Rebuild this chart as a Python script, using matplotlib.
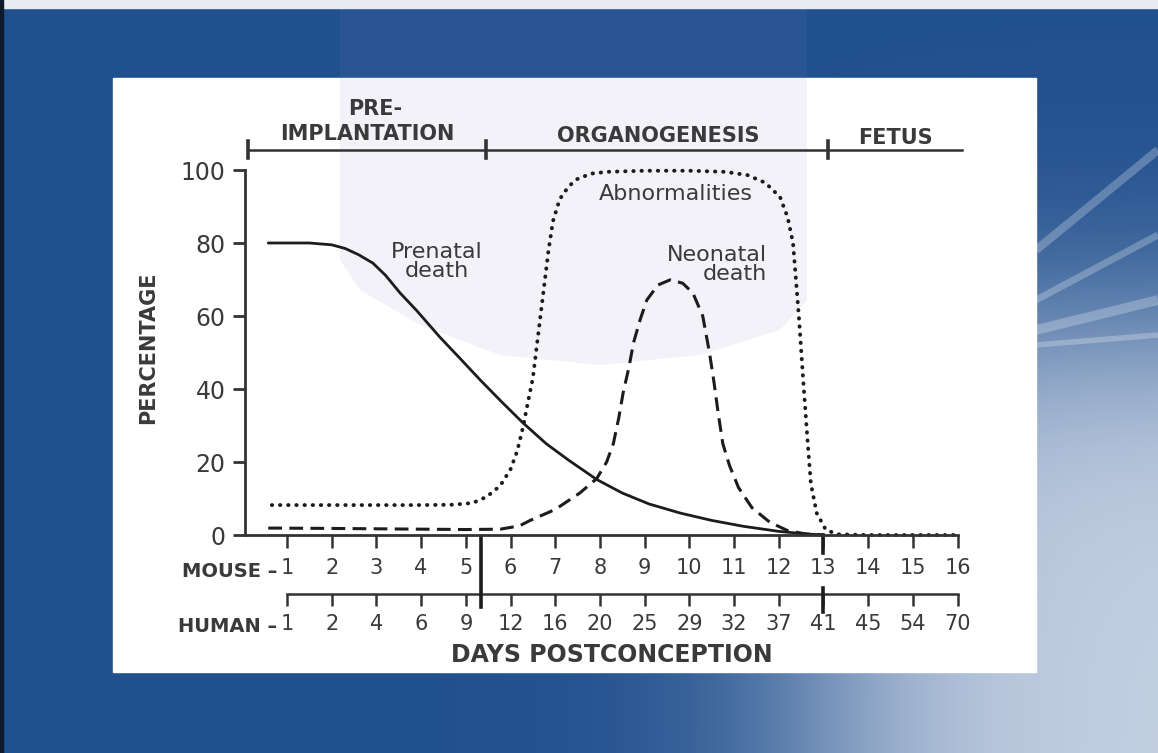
import numpy as np
import matplotlib
matplotlib.use("Agg")
import matplotlib.pyplot as plt
from matplotlib.patches import Rectangle, Polygon

# --- data (x = mouse day, y = percentage) ---
mouse_days = list(range(1, 17))
human_days = [1, 2, 4, 6, 9, 12, 16, 20, 25, 29, 32, 37, 41, 45, 54, 70]
percent_ticks = [0, 20, 40, 60, 80, 100]

prenatal_x = [0.58, 1.0, 1.5, 2.0, 2.3, 2.6, 2.92, 3.2, 3.53, 3.9, 4.42, 4.9, 5.32,
              5.8, 6.28, 6.8, 7.3, 7.93, 8.5, 9.1, 9.8, 10.5, 11.2, 12.0, 12.6, 13.0]
prenatal_y = [80, 80, 80, 79.5, 78.5, 76.8, 74.5, 71.2, 66.3, 61.5, 54.2, 48, 42.5,
              36.5, 30.7, 25, 20.5, 15.2, 11.5, 8.5, 6, 4, 2.4, 1.0, 0.3, 0]

abnorm_x = [0.66, 2, 3, 4, 4.7, 5.0, 5.16, 5.47, 5.77, 6.0, 6.15, 6.28, 6.4, 6.5,
            6.62, 6.73, 6.85, 6.95, 7.1, 7.3, 7.49, 7.8, 8.16, 9, 10, 10.8, 11.3,
            11.7, 12.03, 12.2, 12.32, 12.45, 12.55, 12.65, 12.72, 12.85, 13.05,
            13.3, 14, 15, 16]
abnorm_y = [8.2, 8.2, 8.2, 8.2, 8.3, 8.6, 8.8, 10.5, 13.5, 18, 23, 29.6, 37, 43,
            55, 66, 78, 86, 92, 95.5, 97.5, 99, 99.5, 99.8, 99.8, 99.5, 98.6,
            96.5, 92.6, 87, 80, 60, 42, 25, 14, 6, 1.5, 0.2, 0, 0, 0]

neonatal_x = [0.58, 2, 3, 4, 5, 5.77, 6.2, 6.44, 7.0, 7.55, 7.93, 8.15, 8.3, 8.42,
              8.52, 8.65, 8.75, 8.9, 9.05, 9.3, 9.57, 9.85, 10.08, 10.3, 10.45,
              10.55, 10.65, 10.75, 10.9, 11.1, 11.4, 11.8, 12.2, 12.6, 13.0]
neonatal_y = [1.9, 1.8, 1.7, 1.6, 1.5, 1.6, 2.5, 4, 7, 11.5, 15.5, 20, 25, 32,
              39, 46, 52.6, 59, 64.4, 68.5, 69.9, 69, 66.3, 60, 50,
              42, 33, 25, 19, 13, 7.5, 3.5, 1.2, 0.3, 0]

phase_edges = [0.13, 5.45, 13.1, 16.1]
phase_names = ["PRE-\nIMPLANTATION", "ORGANOGENESIS", "FETUS"]

ink = "#1c1c1c"
txt = "#3a3a3a"

fig = plt.figure(figsize=(11.58, 7.53), dpi=100)

# --- slide background (pixel coordinates) ---
bg = fig.add_axes([0, 0, 1, 1], zorder=-1)
bg.set_xlim(0, 1158)
bg.set_ylim(753, 0)
bg.axis("off")
xx, yy = np.meshgrid(np.arange(1158), np.arange(753))
s1 = 1 / (1 + np.exp(-(xx - 820) / 75.0))
s2 = 1 / (1 + np.exp(-(yy - 330) / 60.0))
f = (s1 * s2)[..., None]
blue = np.array([33, 80, 142]) / 255
light = np.array([196, 208, 226]) / 255
bg.imshow(blue * (1 - f) + light * f, extent=(0, 1158, 753, 0), aspect="auto")
bg.add_patch(Rectangle((0, 0), 1158, 8, color="#e9ecf1"))
bg.add_patch(Rectangle((0, 0), 3, 753, color="#0e1a2c"))
bg.add_patch(Rectangle((340, 8), 467, 70, color="white", alpha=0.04, lw=0))
for (y0, y1, w) in [(250, 150, 6), (300, 235, 5), (330, 300, 7), (345, 335, 4)]:
    bg.plot([1036, 1158], [y0, y1], color="white", lw=w, alpha=0.25,
            solid_capstyle="butt")
bg.add_patch(Rectangle((113, 78), 923, 594, color="white"))
bg.add_patch(Polygon([(340, 78), (807, 78), (807, 300), (780, 330), (700, 355),
                      (600, 365), (500, 355), (420, 325), (360, 290), (340, 260)],
                     closed=True, color="#f2f2f8", lw=0))

# --- main chart ---
ax = fig.add_axes([0.21157, 0.28950, 0.61917, 0.48473])
ax.set_facecolor("none")
ax.set_xlim(0.06, 16.1)
ax.set_ylim(0, 100)
for s in ["top", "right"]:
    ax.spines[s].set_visible(False)
ax.spines["left"].set_bounds(0, 100)
ax.spines["bottom"].set_bounds(0.06, 16)
for s in ["left", "bottom"]:
    ax.spines[s].set_linewidth(2)
    ax.spines[s].set_color("#333333")

ax.set_yticks(percent_ticks)
ax.tick_params(axis="y", length=9, width=2, pad=5, labelsize=17,
               color="#333333", labelcolor=txt)
ax.set_xticks(mouse_days, labels=[str(d) for d in mouse_days])
ax.tick_params(axis="x", direction="out", length=9.5, width=1.8, pad=7,
               labelsize=15, color="#333333", labelcolor=txt)

sec = ax.secondary_xaxis(-0.162)
sec.set_xticks(mouse_days, labels=[str(d) for d in human_days])
sec.spines["bottom"].set_bounds(1, 16)
sec.spines["bottom"].set_linewidth(1.8)
sec.spines["bottom"].set_color("#333333")
sec.tick_params(axis="x", length=8.6, width=1.8, pad=5.8, labelsize=15,
                color="#333333", labelcolor=txt)

ax.plot(prenatal_x, prenatal_y, color=ink, lw=2.0, solid_capstyle="round")
ax.plot(abnorm_x, abnorm_y, color=ink, lw=2.8, linestyle=(0, (0.1, 2.0)),
        dash_capstyle="round", clip_on=False)
ax.plot(neonatal_x, neonatal_y, color=ink, lw=2.2, linestyle=(0, (4.5, 2.4)),
        clip_on=False)

# separators between periods on the day scales
ax.plot([5.35, 5.35], [-0.5, -19.7], color=ink, lw=2.6, clip_on=False)
ax.plot([13, 13], [0, -5], color=ink, lw=2.6, clip_on=False)
ax.plot([13, 13], [-14.5, -21], color=ink, lw=2.6, clip_on=False)

# period bar on top
ax.plot([phase_edges[0], phase_edges[-1]], [105.5, 105.5], color="#333333",
        lw=1.8, clip_on=False)
for e in phase_edges[:-1]:
    ax.plot([e, e], [103.2, 108.0], color="#333333", lw=2.6, clip_on=False)
ax.text(2.97, 115.2, "PRE-", ha="center", va="baseline", fontsize=15,
        fontweight="bold", color=txt)
ax.text(2.79, 108.3, "IMPLANTATION", ha="center", va="baseline", fontsize=15,
        fontweight="bold", color=txt)
ax.text(9.30, 107.8, phase_names[1], ha="center", va="baseline", fontsize=15,
        fontweight="bold", color=txt)
ax.text(14.62, 107.0, phase_names[2], ha="center", va="baseline", fontsize=15,
        fontweight="bold", color=txt)

# curve labels
ax.text(4.36, 75.0, "Prenatal\ndeath", ha="center", va="center", fontsize=16,
        color=txt, linespacing=0.95)
ax.text(9.70, 93.4, "Abnormalities", ha="center", va="center", fontsize=16,
        color=txt)
ax.text(11.74, 74.2, "Neonatal\ndeath", ha="right", va="center", fontsize=16,
        color=txt, linespacing=0.95, multialignment="right")

# axis labels
ax.text(0.78, -11.5, "MOUSE –", ha="right", va="baseline", fontsize=14,
        fontweight="bold", color=txt)
ax.text(0.78, -26.6, "HUMAN –", ha="right", va="baseline", fontsize=14,
        fontweight="bold", color=txt)
ax.text(8.27, -34.8, "DAYS POSTCONCEPTION", ha="center", va="baseline",
        fontsize=17, fontweight="bold", color=txt)
ax.text(-2.11, 51.2, "PERCENTAGE", ha="center", va="center", rotation=90,
        fontsize=15, fontweight="bold", color=txt)

fig.savefig("out.png", dpi=100)
